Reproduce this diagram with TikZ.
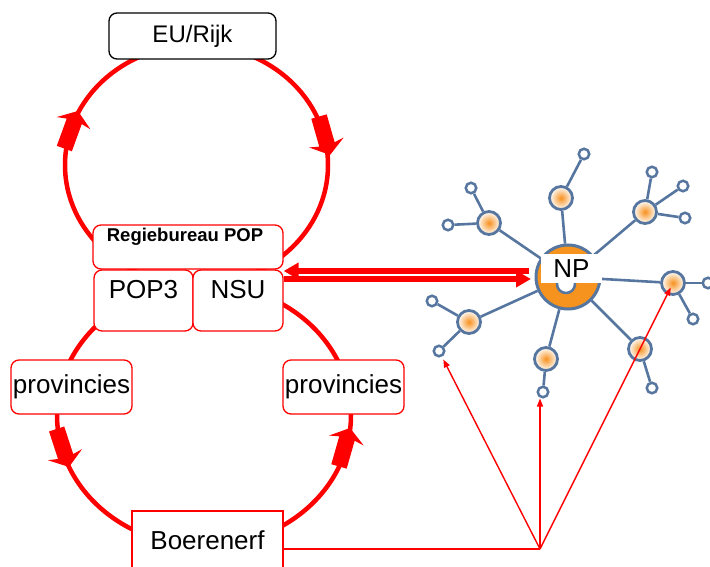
\documentclass[tikz,border=0pt]{standalone}
\usepackage{fontspec}
\setmainfont{Liberation Sans}
\usetikzlibrary{arrows.meta}
\definecolor{netblue}{RGB}{86,118,160}
\definecolor{hubor}{RGB}{246,146,30}
\definecolor{satcore}{RGB}{247,145,30}
\newcommand{\loopArrow}[2]{\fill[red,shift={(#1)},rotate=#2] (-40,-8) -- (-11,-8) -- (-13,-18) -- (0,0) -- (-13,18) -- (-11,8) -- (-40,8) -- cycle;}
\begin{document}
\begin{tikzpicture}[x=1pt,y=1pt,
  loopline/.style={red, line width=4.5pt},
  redbox/.style={draw=red, line width=1.3pt, fill=white, rounded corners=8pt, inner sep=0pt},
  bigtxt/.style={font=\fontsize{26}{30}\selectfont},
  sat/.style={circle, draw=netblue, line width=2.8pt, minimum size=23pt, inner sep=0pt, inner color=satcore, outer color=white},
  leaf/.style={circle, draw=netblue, line width=2.5pt, fill=white, minimum size=10.5pt, inner sep=0pt},
  link/.style={netblue, line width=2.6pt},
  thinarrow/.style={red, line width=1.4pt, -{Triangle[length=8pt,width=6pt]}},
  dblarrow/.style={red, line width=5.5pt, -{Triangle[length=15pt,width=16pt]}}
]
\useasboundingbox (0,0) rectangle (710,-567);
% loops
\draw[loopline] (196.5,-165) ellipse [x radius=131.5, y radius=120];
\draw[loopline] (204,-415) ellipse [x radius=147, y radius=131];
% boxes
\node[draw=black, line width=1.3pt, fill=white, rounded corners=8pt, inner sep=0pt,
      minimum width=167pt, minimum height=46pt, font=\fontsize{24}{28}\selectfont] (eu) at (192.5,-36) {EU/Rijk};
\node[redbox, minimum width=190pt, minimum height=44pt] (reg) at (188,-247) {};
\node[font=\fontsize{18.5}{22}\selectfont\bfseries] (regT) at (185,-237) {Regiebureau POP};
\node[redbox, minimum width=99pt, minimum height=61pt] (pop3) at (143.5,-300.5) {};
\node[redbox, minimum width=90pt, minimum height=61pt] (nsu) at (238,-300.5) {};
\node[bigtxt] (pop3T) at (143.5,-290) {POP3};
\node[bigtxt] (nsuT) at (238,-290) {NSU};
\node[redbox, minimum width=121pt, minimum height=54pt, bigtxt] (provL) at (71.5,-387) {provincies};
\node[redbox, minimum width=121pt, minimum height=54pt, bigtxt] (provR) at (343.5,-387) {provincies};
\node[draw=red, line width=1.3pt, fill=white, inner sep=0pt, minimum width=151pt, minimum height=58pt, bigtxt] (boer) at (207.5,-540) {Boerenerf};
% loop arrows
\loopArrow{78,-111}{70}
\loopArrow{330,-155}{-74}
\loopArrow{69,-467}{-72}
\loopArrow{350,-428}{74}
% network
\node[circle, draw=netblue, line width=3pt, fill=hubor, minimum size=64pt, inner sep=0pt] (hub) at (568,-277) {};
\node[circle, draw=netblue, line width=2.5pt, fill=white, minimum size=18pt, inner sep=0pt] (hubin) at (566,-284) {};
\node[sat] (s1) at (489,-223) {};
\node[sat] (s2) at (561,-198) {};
\node[sat] (s3) at (645,-212) {};
\node[sat] (s4) at (673,-283) {};
\node[sat] (s5) at (640,-349) {};
\node[sat] (s6) at (546,-359) {};
\node[sat] (s7) at (469,-322) {};
\node[leaf] (l1a) at (471,-188) {};
\node[leaf] (l1b) at (448,-225) {};
\node[leaf] (l2a) at (584,-154) {};
\node[leaf] (l3a) at (652,-172) {};
\node[leaf] (l3b) at (683,-186) {};
\node[leaf] (l3c) at (685,-218) {};
\node[leaf] (l4a) at (708,-283) {};
\node[leaf] (l4b) at (693,-319) {};
\node[leaf] (l5a) at (652,-388) {};
\node[leaf] (l6a) at (543,-392) {};
\node[leaf] (l7a) at (432,-301) {};
\node[leaf] (l7b) at (439,-351) {};
\foreach \s in {s1,s2,s3,s4,s5,s6,s7} \draw[link] (hub) -- (\s);
\draw[link] (s1) -- (l1a);
\draw[link] (s1) -- (l1b);
\draw[link] (s2) -- (l2a);
\draw[link] (s3) -- (l3a);
\draw[link] (s3) -- (l3b);
\draw[link] (s3) -- (l3c);
\draw[link] (s4) -- (l4a);
\draw[link] (s4) -- (l4b);
\draw[link] (s5) -- (l5a);
\draw[link] (s6) -- (l6a);
\draw[link] (s7) -- (l7a);
\draw[link] (s7) -- (l7b);
\node[fill=white, minimum width=61pt, minimum height=29pt, inner sep=0pt, bigtxt] (np) at (571.5,-268.5) {NP};
% double arrows
\coordinate (dA) at (529,-271);
\coordinate (dB) at (531,-279);
\draw[dblarrow] (dA) -- (reg.south east |- dA);
\draw[dblarrow] (nsu.north east |- dB) -- (dB);
% thin arrows from Boerenerf
\coordinate (j) at (540,-549);
\draw[red, line width=1.4pt] (boer.east |- j) -- (j);
\draw[thinarrow, shorten >=3pt] (j) -- (l7b);
\draw[thinarrow] (j) -- (j |- l6a.south);
\draw[thinarrow, shorten >=5pt] (j) -- (s4.center);
\end{tikzpicture}
\end{document}
